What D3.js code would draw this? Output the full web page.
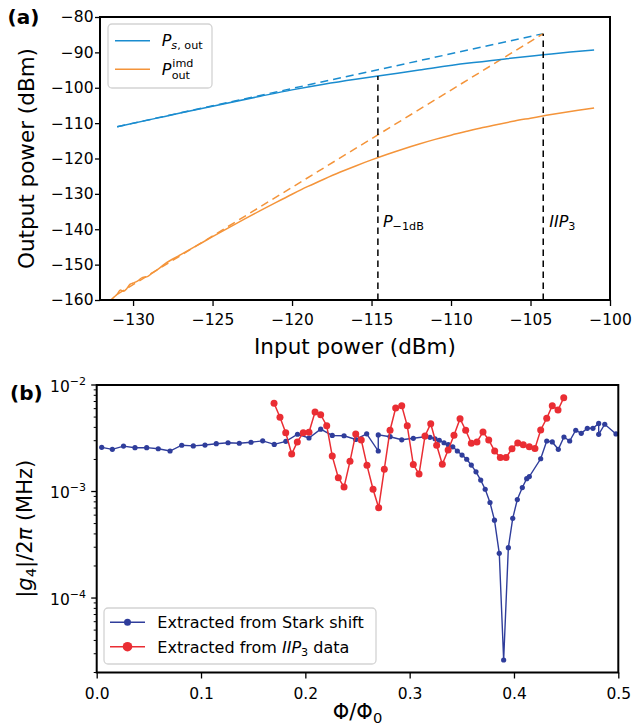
<!DOCTYPE html>
<html><head><meta charset="utf-8">
<script src="https://cdn.jsdelivr.net/npm/d3@7"></script>
<style>body{margin:0;background:#fff} svg{display:block}</style>
</head><body><svg id="c" width="634" height="728"></svg>
<script>
// ---------- DATA: panel (a) ----------
const psOut = [[-131,-111.0],[-128,-108.1],[-125,-105.2],[-122,-102.4],[-120,-100.6],[-118,-99.0],[-116,-97.6],[-114.6,-96.7],[-112,-95.0],[-109,-93.1],[-106.5,-91.8],[-104.2,-90.7],[-102.5,-89.9],[-101,-89.3]];
const psOutFit = [[-131,-111.0],[-104.2,-84.7]];
const imdOut = [[-131.4,-160.0],[-131.2,-159.2],[-131.0,-158.4],[-130.8,-157.2],[-130.6,-157.5],[-130.4,-156.8],[-130.2,-155.6],[-130.0,-155.2],[-129.7,-154.6],[-129.4,-153.6],[-129.1,-153.4],[-128.8,-152.4],[-128.4,-151.2],[-128.0,-149.8],[-127,-147.2],[-126,-144.65],[-125,-142.1],[-124,-139.6],[-123,-137.15],[-122,-134.75],[-121,-132.4],[-120,-130.1],[-119,-127.9],[-118,-125.85],[-117,-123.9],[-116,-122.1],[-115,-120.4],[-114,-118.8],[-113,-117.3],[-112,-115.9],[-111,-114.6],[-110,-113.4],[-109,-112.3],[-108,-111.25],[-107,-110.3],[-106,-109.4],[-105,-108.6],[-104,-107.8],[-103,-107.05],[-102,-106.35],[-101,-105.7]];
const imdFit = [[-131,-158.4],[-104.2,-84.7]];
const p1dB = [-114.6, -96.7];   // [input, top of marker line]
const iip3 = [-104.2, -84.7];
const aXTicks = [-130,-125,-120,-115,-110,-105,-100];
const aYTicks = [-160,-150,-140,-130,-120,-110,-100,-90,-80];

// ---------- DATA: panel (b) ----------
const starkX = [0.0048,0.0150,0.0257,0.0367,0.0479,0.0590,0.0703,0.0815,0.0926,0.1038,0.1146,0.1259,0.1367,0.1479,0.1591,0.1702,0.1813,0.1925,0.2035,0.2147,0.2258,0.2371,0.2483,0.2588,0.2699,0.2699,0.2812,0.2924,0.3035,0.3147,0.3195,0.3243,0.3284,0.3329,0.3370,0.3413,0.3457,0.3502,0.3547,0.3591,0.3636,0.3681,0.3724,0.3770,0.3813,0.3859,0.3901,0.3946,0.3988,0.4032,0.4080,0.4122,0.4147,0.4256,0.4314,0.4367,0.4425,0.4479,0.4534,0.4592,0.4645,0.4703,0.4757,0.4812,0.4812,0.4870,0.4978];
const starkY = [2.60e-3,2.49e-3,2.67e-3,2.58e-3,2.58e-3,2.52e-3,2.40e-3,2.72e-3,2.68e-3,2.73e-3,2.81e-3,2.87e-3,2.84e-3,2.90e-3,2.99e-3,2.77e-3,2.96e-3,3.45e-3,3.18e-3,3.85e-3,3.36e-3,3.34e-3,3.08e-3,3.48e-3,2.40e-3,3.40e-3,3.27e-3,3.06e-3,3.16e-3,3.27e-3,3.23e-3,3.13e-3,3.03e-3,2.87e-3,2.75e-3,2.63e-3,2.40e-3,2.20e-3,2.01e-3,1.77e-3,1.53e-3,1.28e-3,1.05e-3,7.89e-4,5.38e-4,2.63e-4,2.62e-5,2.97e-4,5.60e-4,8.41e-4,1.09e-3,1.32e-3,1.38e-3,2.03e-3,2.98e-3,2.92e-3,2.49e-3,3.25e-3,2.98e-3,3.76e-3,3.52e-3,3.92e-3,3.92e-3,4.36e-3,3.44e-3,4.28e-3,3.47e-3];
const iipX = [0.1700,0.1757,0.1812,0.1869,0.1923,0.1980,0.2035,0.2093,0.2147,0.2205,0.2258,0.2316,0.2371,0.2428,0.2483,0.2536,0.2591,0.2649,0.2703,0.2757,0.2812,0.2866,0.2924,0.2977,0.3035,0.3090,0.3147,0.3202,0.3259,0.3313,0.3369,0.3425,0.3483,0.3537,0.3591,0.3645,0.3703,0.3758,0.3815,0.3869,0.3924,0.3981,0.4036,0.4089,0.4147,0.4201,0.4256,0.4314,0.4367,0.4422,0.4477];
const iipY = [6.73e-3,4.98e-3,3.57e-3,2.25e-3,2.92e-3,3.57e-3,3.60e-3,5.57e-3,5.26e-3,4.15e-3,2.15e-3,1.35e-3,1.10e-3,1.92e-3,3.47e-3,3.05e-3,1.76e-3,1.05e-3,7.05e-4,1.62e-3,3.76e-3,6.08e-3,6.39e-3,4.14e-3,1.79e-3,1.46e-3,3.32e-3,4.33e-3,2.72e-3,1.80e-3,2.45e-3,3.37e-3,4.83e-3,3.76e-3,2.84e-3,2.92e-3,3.62e-3,3.05e-3,2.40e-3,2.09e-3,2.09e-3,2.52e-3,2.85e-3,2.75e-3,2.63e-3,2.54e-3,3.78e-3,4.87e-3,6.39e-3,5.82e-3,7.60e-3];
const bXTicks = [0,0.1,0.2,0.3,0.4,0.5];
const bYTicks = [1e-4,1e-3,1e-2];

// ---------- STYLE ----------
const FONT = "DejaVu Sans";
const C_BLUE = "#1a8ccf", C_ORANGE = "#f4943a", C_STARK = "#2f3d9b", C_IIP = "#ea2d33";
const minus = s => String(s).replace("-", "\u2212");

const svg = d3.select("#c");

function styleAxis(g, fs) {
  g.attr("font-family", FONT).attr("font-size", fs);
  g.select(".domain").remove();
  g.selectAll(".tick line").attr("stroke", "#000").attr("stroke-width", 1.3);
  g.selectAll(".tick text").attr("fill", "#000");
}

// ================= PANEL (a) =================
const A = {l:100, r:610, t:17, b:300};
const xA = d3.scaleLinear().domain([-132.08, -100]).range([A.l, A.r]);
const yA = d3.scaleLinear().domain([-160, -80]).range([A.b, A.t]);

svg.append("clipPath").attr("id","clipA").append("rect")
  .attr("x",A.l).attr("y",A.t).attr("width",A.r-A.l).attr("height",A.b-A.t);

const gA = svg.append("g");
const lineA = d3.line().x(d=>xA(d[0])).y(d=>yA(d[1]));
const lineAc = d3.line().x(d=>xA(d[0])).y(d=>yA(d[1])).curve(d3.curveMonotoneX);
const plotA = gA.append("g").attr("clip-path","url(#clipA)");

plotA.append("path").datum(psOutFit).attr("d", lineA).attr("fill","none")
  .attr("stroke", C_BLUE).attr("stroke-width",1.5).attr("stroke-dasharray","8,5");
plotA.append("path").datum(imdFit).attr("d", lineA).attr("fill","none")
  .attr("stroke", C_ORANGE).attr("stroke-width",1.5).attr("stroke-dasharray","8,5");
plotA.append("path").datum(psOut).attr("d", lineAc).attr("fill","none")
  .attr("stroke", C_BLUE).attr("stroke-width",1.5);
plotA.append("path").datum(imdOut).attr("d", lineAc).attr("fill","none")
  .attr("stroke", C_ORANGE).attr("stroke-width",1.5);

[p1dB, iip3].forEach(p => {
  plotA.append("line").attr("x1",xA(p[0])).attr("x2",xA(p[0]))
    .attr("y1",yA(-160)).attr("y2",yA(p[1]))
    .attr("stroke","#000").attr("stroke-width",1.5).attr("stroke-dasharray","6.5,4.5");
});

// annotations
const ann1 = gA.append("text").attr("x", xA(p1dB[0])+5).attr("y", 226.5)
  .attr("font-family",FONT).attr("font-size",16);
ann1.append("tspan").attr("font-style","italic").text("P");
ann1.append("tspan").attr("font-size",11.2).attr("dy",3.8).text("\u22121dB");
const ann2 = gA.append("text").attr("x", xA(iip3[0])+6).attr("y", 226.5)
  .attr("font-family",FONT).attr("font-size",16);
ann2.append("tspan").attr("font-style","italic").text("IIP");
ann2.append("tspan").attr("font-size",11.2).attr("dy",3.8).text("3");

// axes
gA.append("g").attr("transform",`translate(0,${A.b})`)
  .call(d3.axisBottom(xA).tickValues(aXTicks).tickSize(6).tickPadding(8).tickFormat(d=>minus(d)))
  .call(g=>styleAxis(g,15.5));
gA.append("g").attr("transform",`translate(${A.l},0)`)
  .call(d3.axisLeft(yA).tickValues(aYTicks).tickSize(5).tickPadding(1.5).tickFormat(d=>minus(d)))
  .call(g=>styleAxis(g,15.5));

gA.append("rect").attr("x",A.l).attr("y",A.t).attr("width",A.r-A.l).attr("height",A.b-A.t)
  .attr("fill","none").attr("stroke","#000").attr("stroke-width",2);

gA.append("text").attr("x",(A.l+A.r)/2).attr("y",354).attr("text-anchor","middle")
  .attr("font-family",FONT).attr("font-size",21.5).text("Input power (dBm)");
gA.append("text").attr("transform",`translate(34,${(A.t+A.b)/2}) rotate(-90)`).attr("text-anchor","middle")
  .attr("font-family",FONT).attr("font-size",21.5).text("Output power (dBm)");
gA.append("text").attr("x",7.5).attr("y",24).attr("font-family",FONT).attr("font-weight","bold")
  .attr("font-size",20).text("(a)");

// legend (a)
const lgA = gA.append("g");
lgA.append("rect").attr("x",108).attr("y",24).attr("width",104).attr("height",64).attr("rx",4)
  .attr("fill","#fff").attr("fill-opacity",0.8).attr("stroke","#d3d3d3").attr("stroke-width",1.3);
lgA.append("line").attr("x1",115).attr("x2",150).attr("y1",40.7).attr("y2",40.7)
  .attr("stroke",C_BLUE).attr("stroke-width",1.5);
lgA.append("line").attr("x1",115).attr("x2",150).attr("y1",69.3).attr("y2",69.3)
  .attr("stroke",C_ORANGE).attr("stroke-width",1.5);
const l1 = lgA.append("text").attr("x",161.7).attr("y",45.5).attr("font-family",FONT).attr("font-size",16);
l1.append("tspan").attr("font-style","italic").text("P");
l1.append("tspan").attr("font-size",11.2).attr("dy",3.5).attr("font-style","italic").text("s");
l1.append("tspan").attr("font-size",11.2).text(", out");
lgA.append("text").attr("x",161.7).attr("y",75).attr("font-family",FONT).attr("font-size",16)
  .attr("font-style","italic").text("P");
lgA.append("text").attr("x",172.3).attr("y",66.5).attr("font-family",FONT).attr("font-size",11.2).text("imd");
lgA.append("text").attr("x",171.7).attr("y",79).attr("font-family",FONT).attr("font-size",11.2).text("out");

// ================= PANEL (b) =================
const B = {l:96.7, r:618.3, t:385, b:672.5};
const xB = d3.scaleLinear().domain([0, 0.5]).range([B.l, B.r]);
const yB = d3.scaleLog().domain([2e-5, 1e-2]).range([B.b, B.t]);

const gB = svg.append("g");
const starkData = starkX.map((x,i)=>[x, starkY[i]]);
const iipData = iipX.map((x,i)=>[x, iipY[i]]);
const lineB = d3.line().x(d=>xB(d[0])).y(d=>yB(d[1]));

gB.append("path").datum(starkData).attr("d",lineB).attr("fill","none")
  .attr("stroke",C_STARK).attr("stroke-width",1.4);
gB.selectAll("circle.s").data(starkData).join("circle").attr("class","s")
  .attr("cx",d=>xB(d[0])).attr("cy",d=>yB(d[1])).attr("r",2.6).attr("fill",C_STARK);
gB.append("path").datum(iipData).attr("d",lineB).attr("fill","none")
  .attr("stroke",C_IIP).attr("stroke-width",1.5);
gB.selectAll("circle.i").data(iipData).join("circle").attr("class","i")
  .attr("cx",d=>xB(d[0])).attr("cy",d=>yB(d[1])).attr("r",3.5).attr("fill",C_IIP);

// x axis
gB.append("g").attr("transform",`translate(0,${B.b})`)
  .call(d3.axisBottom(xB).tickValues(bXTicks).tickSize(6).tickPadding(9).tickFormat(d3.format(".1f")))
  .call(g=>styleAxis(g,15.5));

// y axis (log) with minor ticks
const minor = [];
for (let e=-5; e<=-3; e++) for (let m=2; m<=9; m++) { const v = m*Math.pow(10,e); if (v>=2e-5 && v<1e-2) minor.push(v); }
gB.selectAll("line.mn").data(minor).join("line").attr("class","mn")
  .attr("x1",B.l-3).attr("x2",B.l).attr("y1",d=>yB(d)).attr("y2",d=>yB(d))
  .attr("stroke","#000").attr("stroke-width",1);
gB.selectAll("line.mj").data(bYTicks).join("line").attr("class","mj")
  .attr("x1",B.l-5.5).attr("x2",B.l).attr("y1",d=>yB(d)).attr("y2",d=>yB(d))
  .attr("stroke","#000").attr("stroke-width",1.3);
bYTicks.forEach(v => {
  const t = gB.append("text").attr("x",86).attr("y",yB(v)+6.5).attr("text-anchor","end")
    .attr("font-family",FONT).attr("font-size",15.5);
  t.append("tspan").text("10");
  t.append("tspan").attr("font-size",11).attr("dy",-7).text(minus(Math.round(Math.log10(v))));
});

gB.append("rect").attr("x",B.l).attr("y",B.t).attr("width",B.r-B.l).attr("height",B.b-B.t)
  .attr("fill","none").attr("stroke","#000").attr("stroke-width",2);

// labels
const xl = gB.append("text").attr("x",(B.l+B.r)/2).attr("y",719).attr("text-anchor","middle")
  .attr("font-family",FONT).attr("font-size",21);
xl.append("tspan").text("\u03A6/\u03A6");
xl.append("tspan").attr("font-size",14.7).attr("dy",4).text("0");

const yl = gB.append("text").attr("transform",`translate(32,${(B.t+B.b)/2}) rotate(-90)`).attr("text-anchor","middle")
  .attr("font-family",FONT).attr("font-size",21);
yl.append("tspan").text("|");
yl.append("tspan").attr("font-style","italic").text("g");
yl.append("tspan").attr("font-size",14.7).attr("dy",4).text("4");
yl.append("tspan").attr("dy",-4).text("|/2");
yl.append("tspan").attr("font-style","italic").text("\u03C0");
yl.append("tspan").text(" (MHz)");

gB.append("text").attr("x",10).attr("y",400).attr("font-family",FONT).attr("font-weight","bold")
  .attr("font-size",20).text("(b)");

// legend (b)
const lgB = gB.append("g");
lgB.append("rect").attr("x",104).attr("y",608).attr("width",272).attr("height",56).attr("rx",4)
  .attr("fill","#fff").attr("fill-opacity",0.8).attr("stroke","#d3d3d3").attr("stroke-width",1.3);
lgB.append("line").attr("x1",110).attr("x2",145).attr("y1",622.3).attr("y2",622.3)
  .attr("stroke",C_STARK).attr("stroke-width",1.4);
lgB.append("circle").attr("cx",127.5).attr("cy",622.3).attr("r",3.5).attr("fill",C_STARK);
lgB.append("line").attr("x1",110).attr("x2",145).attr("y1",646.7).attr("y2",646.7)
  .attr("stroke",C_IIP).attr("stroke-width",1.5);
lgB.append("circle").attr("cx",127.5).attr("cy",646.7).attr("r",4.8).attr("fill",C_IIP);
lgB.append("text").attr("x",157.3).attr("y",628.3).attr("font-family",FONT).attr("font-size",16)
  .text("Extracted from Stark shift");
const lb2 = lgB.append("text").attr("x",157.3).attr("y",652.7).attr("font-family",FONT).attr("font-size",16);
lb2.append("tspan").text("Extracted from ");
lb2.append("tspan").attr("font-style","italic").text("IIP");
lb2.append("tspan").attr("font-size",11.2).attr("dy",3.5).text("3");
lb2.append("tspan").attr("dy",-3.5).text(" data");
</script>
</body></html>
